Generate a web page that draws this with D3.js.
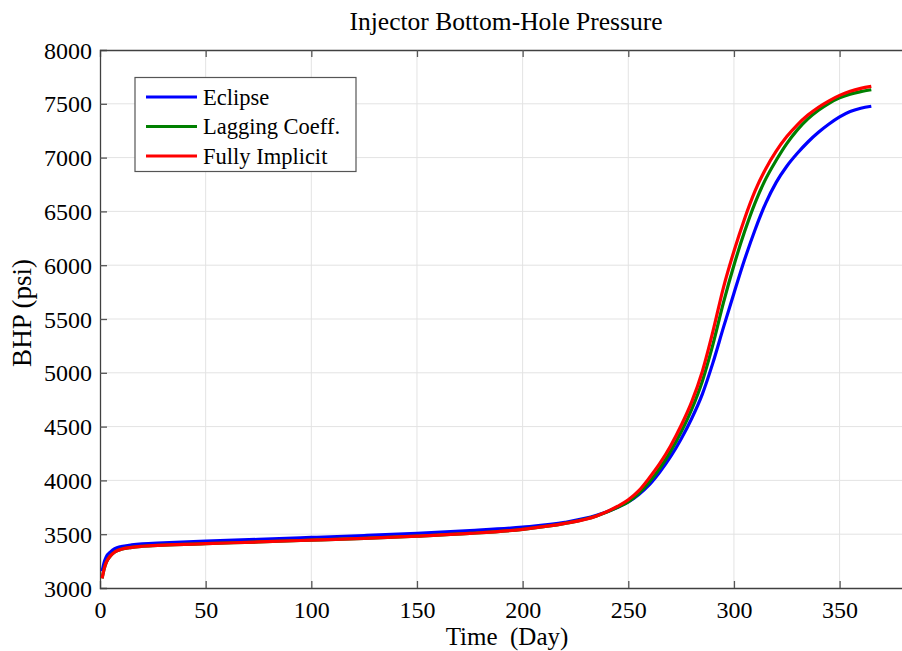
<!DOCTYPE html>
<html>
<head>
<meta charset="utf-8">
<script src="https://cdn.jsdelivr.net/npm/d3@7"></script>
<style>
  html, body { margin: 0; padding: 0; background: #fff; }
  svg { display: block; font-family: "Liberation Serif", "Times New Roman", serif; }
</style>
</head>
<body>
<svg id="chart" width="902" height="651"></svg>
<script>
// Simulation time (days)
const days = [1, 2, 3, 5, 7, 10, 15, 20, 30, 50, 75, 100, 125, 150, 175, 200, 220, 235, 245, 250,
  255, 260, 265, 270, 275, 280, 285, 290, 295, 300, 305, 310, 315, 320, 325, 330, 335, 340, 345,
  350, 355, 360, 365];

// Injector BHP (psi) per solver
const eclipse = [3154, 3240, 3290, 3335, 3365, 3385, 3400, 3410, 3420, 3435, 3452, 3470, 3488, 3508,
  3534, 3566, 3610, 3675, 3750, 3800, 3870, 3960, 4080, 4220, 4385, 4575, 4800, 5090, 5420, 5740,
  6050, 6330, 6575, 6770, 6920, 7040, 7145, 7235, 7312, 7378, 7428, 7458, 7477];
const lagging = [3090, 3180, 3240, 3300, 3335, 3360, 3378, 3388, 3398, 3412, 3428, 3445, 3462, 3482,
  3507, 3545, 3600, 3670, 3750, 3800, 3880, 3985, 4115, 4270, 4450, 4660, 4920, 5260, 5650, 6000,
  6310, 6580, 6800, 6975, 7130, 7258, 7360, 7440, 7505, 7555, 7590, 7613, 7631];
const implicit = [3090, 3180, 3240, 3300, 3335, 3360, 3378, 3388, 3398, 3412, 3428, 3445, 3462, 3482,
  3507, 3545, 3600, 3670, 3760, 3820, 3905, 4025, 4160, 4320, 4510, 4730, 5010, 5380, 5790, 6130,
  6430, 6690, 6895, 7060, 7195, 7305, 7395, 7468, 7528, 7578, 7616, 7643, 7662];

const seriesNames = ["Eclipse", "Lagging Coeff.", "Fully Implicit"];
const seriesColors = ["#0000ff", "#008000", "#ff0000"];
const seriesValues = [eclipse, lagging, implicit];

const xTicks = [0, 50, 100, 150, 200, 250, 300, 350];
const yTicks = [3000, 3500, 4000, 4500, 5000, 5500, 6000, 6500, 7000, 7500, 8000];

const svg = d3.select("#chart");
const plot = { left: 100, right: 903, top: 50, bottom: 588 };

const x = d3.scaleLinear().domain([0, 380]).range([plot.left, plot.right]);
const y = d3.scaleLinear().domain([3000, 8000]).range([plot.bottom, plot.top]);

// grid
const grid = svg.append("g").attr("stroke", "#e3e3e3").attr("stroke-width", 1);
xTicks.slice(1).forEach(t => {
  grid.append("line").attr("x1", x(t)).attr("x2", x(t)).attr("y1", plot.top).attr("y2", plot.bottom);
});
yTicks.slice(1, -1).forEach(t => {
  grid.append("line").attr("x1", plot.left).attr("x2", plot.right).attr("y1", y(t)).attr("y2", y(t));
});

// axes with inward ticks
const xAxis = svg.append("g").attr("transform", `translate(0,${plot.bottom})`)
  .call(d3.axisBottom(x).tickValues(xTicks).tickSize(-7).tickPadding(13).tickFormat(d3.format("d")));
const xAxisTop = svg.append("g").attr("transform", `translate(0,${plot.top})`)
  .call(d3.axisTop(x).tickValues(xTicks).tickSize(-7).tickFormat(""));
const yAxis = svg.append("g").attr("transform", `translate(${plot.left},0)`)
  .call(d3.axisLeft(y).tickValues(yTicks).tickSize(-7).tickPadding(8).tickFormat(d3.format("d")));

[xAxis, xAxisTop, yAxis].forEach(g => {
  g.select(".domain").attr("stroke", "#404040").attr("stroke-width", 1.3);
  g.selectAll(".tick line").attr("stroke", "#555").attr("stroke-width", 1.3);
  g.selectAll("text").attr("font-family", "Liberation Serif, serif").attr("font-size", 24).attr("fill", "#000");
});
xAxis.selectAll(".tick line").filter(d => d === 0).remove();
xAxisTop.selectAll(".tick line").filter(d => d === 0).remove();
yAxis.selectAll(".tick line").filter(d => d === 3000 || d === 8000).remove();
yAxis.selectAll("text").attr("dy", "0.34em");

// series lines
const line = d3.line()
  .x(d => x(d[0]))
  .y(d => y(d[1]))
  .curve(d3.curveMonotoneX);

seriesValues.forEach((vals, i) => {
  svg.append("path")
    .datum(days.map((d, k) => [d, vals[k]]))
    .attr("fill", "none")
    .attr("stroke", seriesColors[i])
    .attr("stroke-width", 3.2)
    .attr("stroke-linejoin", "round")
    .attr("d", line);
});

// title and axis labels
svg.append("text").attr("x", 506).attr("y", 30).attr("text-anchor", "middle")
  .attr("font-size", 25.5).text("Injector Bottom-Hole Pressure");
svg.append("text").attr("x", 507).attr("y", 645).attr("text-anchor", "middle")
  .attr("font-size", 25).attr("xml:space", "preserve").text("Time  (Day)");
svg.append("text").attr("transform", "translate(31,313) rotate(-90)").attr("text-anchor", "middle")
  .attr("font-size", 27).text("BHP (psi)");

// legend
const lg = svg.append("g");
lg.append("rect").attr("x", 135).attr("y", 77.5).attr("width", 221).attr("height", 94)
  .attr("fill", "#fff").attr("stroke", "#555").attr("stroke-width", 1.2);
seriesNames.forEach((name, i) => {
  const cy = 97 + i * 29.5;
  lg.append("line").attr("x1", 146).attr("x2", 197).attr("y1", cy).attr("y2", cy)
    .attr("stroke", seriesColors[i]).attr("stroke-width", 3.2);
  lg.append("text").attr("x", 203).attr("y", cy).attr("dy", "0.35em")
    .attr("font-size", 22.5).text(name);
});
</script>
</body>
</html>
